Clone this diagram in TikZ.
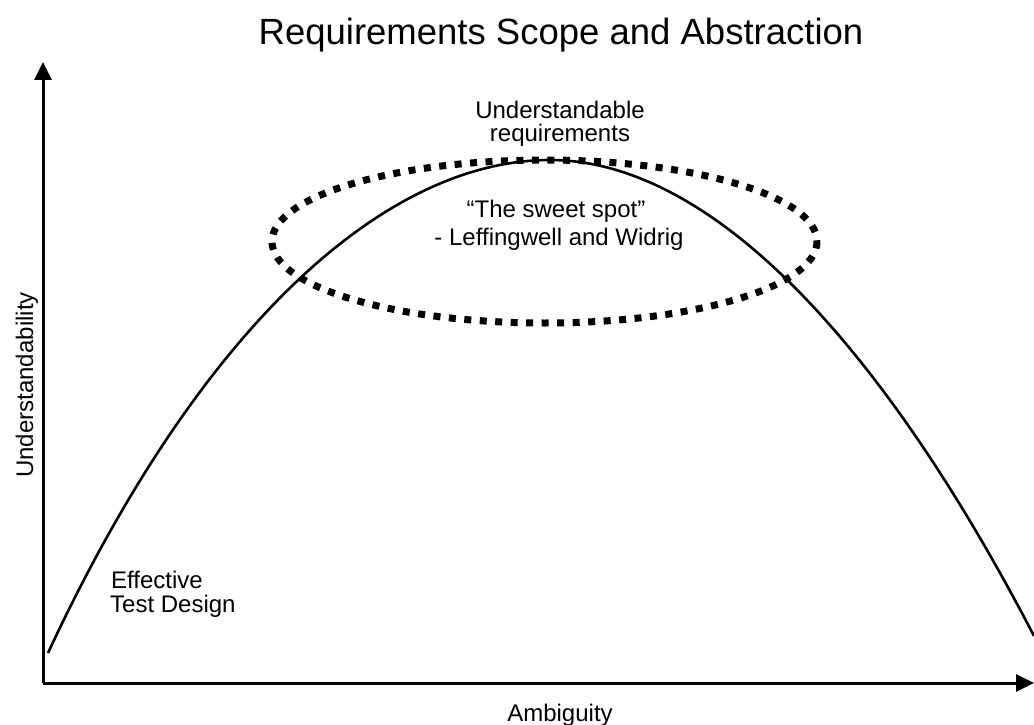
\documentclass[tikz,border=0pt]{standalone}
\usepackage{fontspec}
\setmainfont{Liberation Sans}
\usetikzlibrary{arrows.meta}
\begin{document}
\begin{tikzpicture}[x=1pt,y=-1pt,
  axis/.style={line width=3pt,-{Triangle[length=18pt,width=17pt]}},
  curve/.style={line width=2.6pt},
  sweetspot/.style={line width=7pt,dash pattern=on 7pt off 8.5pt},
  lbl/.style={font=\fontsize{24}{28}\selectfont,inner sep=0pt,anchor=base},
  ttl/.style={font=\fontsize{36.5}{40}\selectfont,inner sep=0pt,anchor=base}]
  \useasboundingbox (0,0) rectangle (1034,725);

  % axes
  \coordinate (origin) at (43,683);
  \coordinate (ytip) at (43,62);
  \coordinate (xtip) at (1034,683);
  \draw[axis] (origin) -- (ytip);
  \draw[axis] (origin) -- (xtip);

  % understandability curve: rises to a peak and falls off again
  \coordinate (cstart) at (48,653);
  \coordinate (cpeak) at (550,160);
  \coordinate (cend) at (1034,636);
  \draw[curve] (cstart) .. controls (200,326) and (385,160) .. (cpeak)
                        .. controls (705,160) and (875,330) .. (cend);

  % the sweet spot
  \draw[sweetspot] (544.5,241.5) ellipse [x radius=272.5, y radius=81.5];

  % texts
  \node[ttl] (title) at (561,45) {Requirements Scope and Abstraction};
  \node[lbl] (under1) at (560,118) {Understandable};
  \node[lbl] (under2) at (560,141) {requirements};
  \node[lbl] (sweet) at (556,217) {“The sweet spot”};
  \node[lbl] (authors) at (559,245) {- Leffingwell and Widrig};
  \node[lbl,anchor=base west] (eff1) at (111,588) {Effective};
  \node[lbl,anchor=base west] (eff2) at (110,612) {Test Design};
  \node[lbl] (xlabel) at (560,721) {Ambiguity};
  \node[lbl,rotate=90] (ylabel) at (33,385) {Understandability};
\end{tikzpicture}
\end{document}
